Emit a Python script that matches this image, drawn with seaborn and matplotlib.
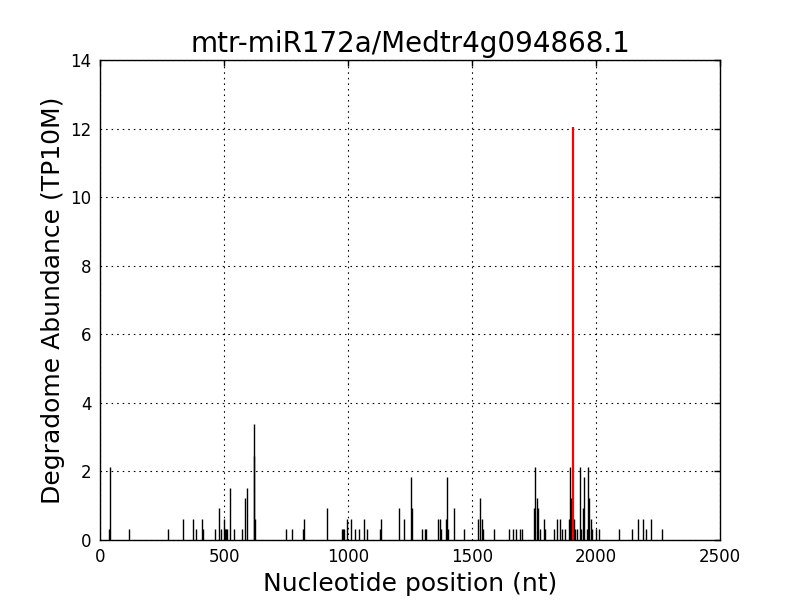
import matplotlib
matplotlib.use("Agg")
import matplotlib.pyplot as plt
import seaborn as sns
import pandas as pd

title = "mtr-miR172a/Medtr4g094868.1"
xlabel = "Nucleotide position (nt)"
ylabel = "Degradome Abundance (TP10M)"

positions = [36, 40, 118, 276, 336, 375, 388, 410, 414, 464, 481, 488, 499, 504,
             510, 514, 523, 539, 572, 585, 593, 620, 622, 626,
             751, 775, 820, 824, 917, 974, 978, 982, 996, 1013, 1027, 1044, 1066, 1078,
             1130, 1134, 1206, 1227, 1254, 1260, 1300, 1310, 1314, 1364, 1372, 1377,
             1396, 1400, 1404, 1426, 1469, 1526, 1531, 1539, 1543, 1590,
             1650, 1667, 1679, 1695, 1703, 1751, 1755, 1763, 1767, 1773, 1789, 1793,
             1831, 1844, 1853, 1862, 1875, 1891, 1895, 1899, 1903, 1911, 1915, 1925,
             1937, 1941, 1949, 1953, 1965, 1969, 1973, 1979, 1983, 2001, 2013,
             2094, 2147, 2171, 2191, 2202, 2223, 2267]
abundance = [0.31, 2.14, 0.31, 0.31, 0.61, 0.61, 0.31, 0.61, 0.31, 0.31, 0.92, 0.31, 0.61, 0.31,
             0.31, 0.31, 1.53, 0.31, 0.31, 1.22, 1.53, 2.45, 3.37, 0.61,
             0.31, 0.31, 0.31, 0.61, 0.92, 0.31, 0.31, 0.31, 0.61, 0.61, 0.31, 0.31, 0.61, 0.31,
             0.31, 0.61, 0.92, 0.61, 1.84, 0.92, 0.31, 0.31, 0.31, 0.61, 0.61, 0.31,
             0.61, 1.84, 0.31, 0.92, 0.31, 0.61, 1.22, 0.61, 0.31, 0.31,
             0.31, 0.31, 0.31, 0.31, 0.31, 0.92, 2.14, 1.22, 0.92, 0.31, 0.61, 0.31,
             0.31, 0.61, 0.61, 0.31, 0.31, 0.61, 2.14, 1.22, 0.31, 0.61, 0.31, 0.31,
             2.14, 0.31, 0.92, 1.84, 0.31, 2.14, 1.22, 0.61, 0.31, 0.31, 0.31,
             0.31, 0.31, 0.61, 0.61, 0.31, 0.61, 0.31]

target_position = [1907]
target_abundance = [12.05]

df = pd.DataFrame({"pos": positions, "ab": abundance})
tdf = pd.DataFrame({"pos": target_position, "ab": target_abundance})

sns.set_style("white")
plt.rcParams["font.family"] = ["DejaVu Sans"]
plt.rcParams["text.color"] = "black"
plt.rcParams["axes.labelcolor"] = "black"

fig = plt.figure(figsize=(8, 6), dpi=100)
ax = fig.add_axes([0.125, 0.1, 0.775, 0.8])

ax.vlines(df["pos"], 0, df["ab"], colors="black", linewidth=1)
ax.vlines(tdf["pos"], 0, tdf["ab"], colors="red", linewidth=1.6)

ax.set_xlim(0, 2500)
ax.set_ylim(0, 14)
ax.set_xticks([0, 500, 1000, 1500, 2000, 2500])
ax.set_yticks(range(0, 15, 2))
ax.grid(True, color="black", linestyle=(0, (1.4, 3.6)), linewidth=0.8)
ax.set_axisbelow(True)
for s in ax.spines.values():
    s.set_visible(True)
    s.set_color("black")
    s.set_linewidth(1)
ax.tick_params(direction="in", length=4, width=1, top=True, right=True,
               labelsize=12, colors="black", pad=6)
ax.set_title(title, fontsize=20, pad=6, color="black")
ax.set_xlabel(xlabel, fontsize=18, color="black")
ax.set_ylabel(ylabel, fontsize=18, color="black")

fig.savefig("out.png", dpi=100, facecolor="white")
